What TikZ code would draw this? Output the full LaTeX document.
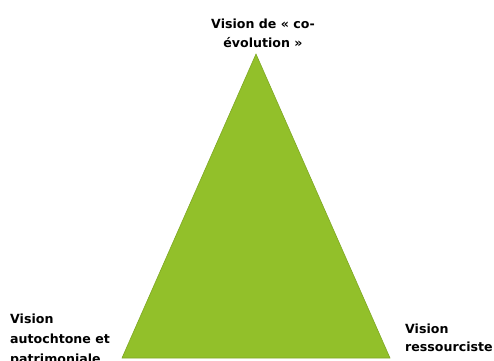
\documentclass[tikz,border=0pt]{standalone}
\usepackage{fontspec}
\setmainfont{DejaVu Sans}
\definecolor{tri}{HTML}{92C02A}
\definecolor{triedge}{HTML}{7FA824}
\begin{document}
\begin{tikzpicture}[x=1pt,y=-1pt,
  lbl/.style={font=\bfseries\fontsize{12.6}{19.5}\selectfont, inner sep=0pt, align=left}]
\useasboundingbox (0,0) rectangle (494,360);
\coordinate (apex) at (256,54);
\coordinate (bl) at (122,358);
\coordinate (br) at (390,358);
\fill[tri, draw=triedge, line width=0.6pt] (apex) -- (bl) -- (br) -- cycle;
\node[lbl, align=center, anchor=base, font=\bfseries\fontsize{12.6}{19}\selectfont] (top) at (263,47) {Vision de « co-\\évolution »};
\node[lbl, anchor=base west, font=\bfseries\fontsize{12.6}{20}\selectfont] (left) at (10,363) {Vision\\autochtone et\\patrimoniale};
\node[lbl, anchor=base west, font=\bfseries\fontsize{12.6}{17.5}\selectfont] (right) at (405,351) {Vision\\ressourciste};
\end{tikzpicture}
\end{document}
